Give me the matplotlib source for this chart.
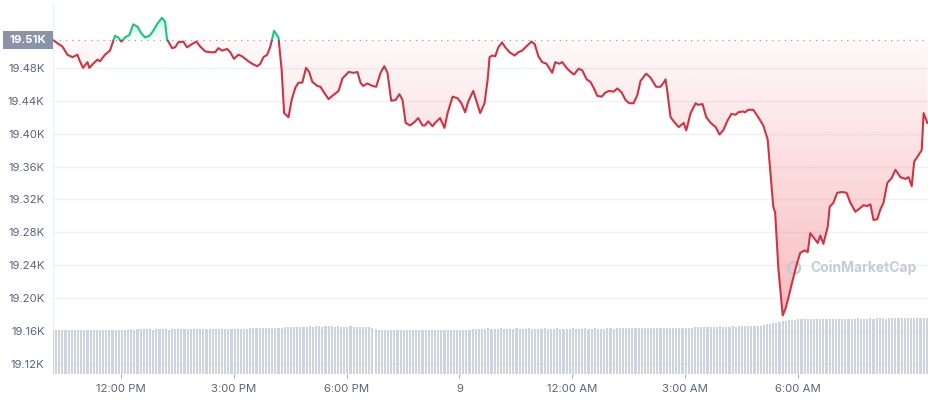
import numpy as np
import matplotlib
matplotlib.use("Agg")
import matplotlib.pyplot as plt
from matplotlib.path import Path
from matplotlib.patches import Rectangle
from matplotlib.colors import to_rgb
from matplotlib.transforms import blended_transform_factory

plt.rcParams['font.family'] = ['Inter', 'DejaVu Sans']

# ---- data (minutes since midnight of day 8, price in USD) ----
minutes = [611, 618, 626, 634, 642, 650, 654, 659, 666, 669, 675, 682, 686, 694, 702, 710, 715, 720,
           726, 733, 739, 746, 752, 758, 765, 771, 777, 785, 790, 793, 801, 806, 811, 819, 825, 833,
           840, 846, 854, 862, 870, 875, 881, 889, 894, 900, 907, 913, 918, 923, 929, 937, 942, 947,
           953, 958, 964, 971, 976, 980, 987, 992, 998, 1003, 1009, 1015, 1020, 1025, 1033, 1038,
           1043, 1051, 1057, 1067, 1073, 1083, 1091, 1097, 1102, 1106, 1113, 1121, 1127, 1134, 1140,
           1145, 1151, 1158, 1164, 1169, 1174, 1181, 1188, 1194, 1201, 1205, 1210, 1217, 1221, 1229,
           1236, 1241, 1249, 1257, 1263, 1269, 1274, 1282, 1289, 1293, 1300, 1305, 1308, 1312, 1317,
           1322, 1328, 1333, 1340, 1348, 1354, 1360, 1368, 1375, 1380, 1386, 1392, 1399, 1408, 1413,
           1419, 1424, 1432, 1439, 1443, 1450, 1456, 1463, 1469, 1474, 1480, 1487, 1493, 1499, 1506,
           1512, 1519, 1525, 1531, 1538, 1544, 1549, 1558, 1565, 1574, 1581, 1586, 1589, 1592, 1597,
           1603, 1610, 1618, 1622, 1629, 1637, 1641, 1648, 1654, 1661, 1669, 1675, 1681, 1688, 1694,
           1701, 1705, 1713, 1716, 1721, 1729, 1737, 1745, 1752, 1756, 1761, 1764, 1769, 1776, 1780,
           1785, 1792, 1798, 1804, 1811, 1816, 1820, 1825, 1832, 1836, 1841, 1848, 1851, 1857, 1863,
           1871, 1878, 1884, 1892, 1899, 1905, 1911, 1916, 1921, 1927, 1932, 1937, 1943, 1950, 1956,
           1964, 1972, 1977, 1982, 1986, 1993, 1998, 2001, 2007]
prices = [19514, 19510, 19506, 19496, 19493, 19496, 19488, 19480, 19487, 19480, 19485, 19490, 19488,
          19496, 19501, 19519, 19517, 19512, 19517, 19520, 19533, 19530, 19522, 19517, 19519, 19525,
          19533, 19541, 19536, 19515, 19504, 19505, 19511, 19512, 19505, 19509, 19512, 19506, 19500,
          19499, 19499, 19504, 19501, 19503, 19499, 19491, 19496, 19494, 19491, 19488, 19485, 19482,
          19485, 19493, 19496, 19506, 19525, 19517, 19478, 19425, 19420, 19441, 19456, 19462, 19462,
          19480, 19475, 19463, 19458, 19457, 19451, 19442, 19446, 19452, 19467, 19475, 19474, 19475,
          19462, 19458, 19461, 19458, 19457, 19474, 19482, 19474, 19440, 19441, 19448, 19441, 19413,
          19410, 19414, 19419, 19410, 19410, 19415, 19409, 19413, 19419, 19407, 19425, 19445, 19443,
          19437, 19426, 19439, 19452, 19435, 19425, 19437, 19466, 19493, 19495, 19494, 19505, 19511,
          19505, 19499, 19495, 19499, 19501, 19507, 19512, 19509, 19494, 19487, 19485, 19474, 19487,
          19485, 19487, 19479, 19474, 19472, 19479, 19477, 19466, 19463, 19456, 19446, 19445, 19450,
          19452, 19451, 19455, 19450, 19441, 19437, 19437, 19447, 19464, 19473, 19468, 19457, 19457,
          19462, 19466, 19450, 19420, 19414, 19408, 19413, 19404, 19425, 19437, 19435, 19436, 19420,
          19413, 19408, 19399, 19404, 19416, 19424, 19423, 19426, 19427, 19426, 19429, 19429, 19420,
          19410, 19393, 19356, 19311, 19304, 19237, 19179, 19186, 19200, 19222, 19240, 19255, 19258,
          19256, 19279, 19274, 19267, 19276, 19266, 19287, 19311, 19316, 19328, 19329, 19328, 19316,
          19305, 19309, 19313, 19312, 19314, 19295, 19296, 19308, 19316, 19340, 19346, 19356, 19347,
          19345, 19347, 19336, 19366, 19374, 19380, 19425, 19413]

# 24h volume bars (billions USD), one every 5 minutes from the first timestamp
vol_start = 611
vol_step = 5
volumes = [
    30.1, 30.0, 30.1, 30.0, 29.9, 30.0, 30.1, 30.0, 30.0, 29.9, 30.0, 30.1, 30.0, 30.0, 30.1, 30.0, 29.9, 30.0, 30.1, 30.0,
    30.0, 30.1, 30.0, 30.1, 30.2, 30.3, 30.2, 30.4, 30.3, 30.3, 30.4, 30.3, 30.2, 30.4, 30.3, 30.4, 30.3, 30.2, 30.3, 30.4,
    30.5, 30.6, 30.5, 30.6, 30.7, 30.6, 30.5, 30.6, 30.6, 30.7, 30.6, 30.5, 30.6, 30.7, 30.6, 30.6, 30.5, 30.6, 30.7, 30.6,
    30.7, 30.8, 30.9, 31.0, 31.3, 31.4, 31.3, 31.4, 31.5, 31.4, 31.3, 31.5, 31.4, 31.6, 31.7, 31.8, 31.7, 31.9, 32.0, 32.1,
    32.2, 32.3, 32.4, 32.3, 32.5, 32.4, 32.3, 32.4, 32.5, 32.4, 32.3, 32.4, 32.3, 32.2, 32.3, 32.4, 32.3, 32.2, 32.3, 32.2,
    32.1, 32.0, 31.6, 30.4, 30.1, 29.9, 30.0, 29.8, 29.9, 30.0, 29.9, 29.8, 29.9, 30.0, 29.9, 29.8, 29.9, 29.9, 30.0, 29.9,
    29.8, 29.9, 30.0, 29.9, 29.8, 29.9, 30.0, 29.9, 30.0, 29.9, 30.0, 30.1, 30.0, 30.1, 30.5, 30.7, 30.8, 30.8, 30.9, 31.0,
    30.9, 30.8, 30.9, 31.0, 30.9, 30.8, 30.9, 30.9, 31.0, 30.9, 30.8, 30.9, 31.0, 30.9, 30.9, 30.8, 30.9, 31.0, 30.9, 30.8,
    30.9, 31.0, 30.9, 30.9, 30.8, 30.9, 31.0, 30.9, 30.8, 30.9, 31.0, 30.9, 30.9, 31.0, 30.9, 30.8, 30.9, 31.0, 31.0, 30.9,
    31.0, 31.1, 31.2, 31.3, 31.2, 31.3, 31.4, 31.3, 31.2, 31.3, 31.4, 31.3, 31.2, 31.3, 31.4, 31.3, 31.3, 31.4, 31.3, 31.2,
    31.3, 31.4, 31.5, 31.4, 31.6, 31.7, 31.8, 31.9, 32.1, 32.2, 32.3, 32.2, 32.3, 32.4, 32.3, 32.2, 32.3, 32.4, 32.3, 32.4,
    32.5, 32.4, 32.5, 32.6, 32.5, 32.7, 32.9, 33.3, 33.8, 34.2, 34.6, 35.0, 35.4, 35.8, 36.2, 36.5, 36.8, 37.0, 37.2, 37.3,
    37.4, 37.5, 37.4, 37.5, 37.6, 37.5, 37.4, 37.6, 37.5, 37.6, 37.7, 37.6, 37.5, 37.6, 37.7, 37.6, 37.7, 37.8, 37.7, 37.6,
    37.7, 37.8, 37.7, 37.8, 37.9, 37.8, 37.7, 37.8, 37.9, 38.0, 37.9, 37.8, 37.9, 38.0, 38.1, 38.0, 37.9, 38.0, 38.1, 38.2,
]

ytick_values = [19120, 19160, 19200, 19240, 19280, 19320, 19360, 19400, 19440, 19480]
xtick_minutes = [720, 900, 1080, 1260, 1440, 1620, 1800]
xtick_labels = ['12:00 PM', '3:00 PM', '6:00 PM', '9', '12:00 AM', '3:00 AM', '6:00 AM']
baseline = prices[0]
baseline_label = '19.51K'

RED = '#cf3442'
RED_FILL = '#ea3943'
GREEN = '#16c784'
GRID = '#eff2f5'
TXT = '#58667e'

x = np.array(minutes, dtype=float)
p = np.array(prices, dtype=float)
XMIN, XMAX = 611, 2008
YMIN, YMAX = 19107.7, 19558.9

fig = plt.figure(figsize=(9.29, 4.0), dpi=100)
rect = [53 / 929, 26 / 400, 875 / 929, 371 / 400]
ax = fig.add_axes(rect)
axv = fig.add_axes(rect)
axv.patch.set_visible(False)

# grid
for v in ytick_values:
    ax.axhline(v, color=GRID, lw=1, zorder=0)

# gradient fills
def gradient_fill(color, y0, y1, a0, a1, verts):
    n = 256
    img = np.zeros((n, 1, 4))
    img[..., :3] = to_rgb(color)
    img[:, 0, 3] = np.linspace(a0, a1, n)
    im = ax.imshow(img, extent=[XMIN, XMAX, y0, y1], origin='lower', aspect='auto',
                   interpolation='bilinear', zorder=1)
    path = Path(verts, closed=True)
    im.set_clip_path(path, ax.transData)

low = np.minimum(p, baseline)
verts_r = [(x[0], baseline)] + list(zip(x, low)) + [(x[-1], baseline), (x[0], baseline)]
gradient_fill(RED_FILL, p.min(), baseline, 0.34, 0.03, verts_r)
high = np.maximum(p, baseline)
verts_g = [(x[0], baseline)] + list(zip(x, high)) + [(x[-1], baseline), (x[0], baseline)]
gradient_fill(GREEN, baseline, p.max(), 0.02, 0.22, verts_g)

# baseline dotted
ax.axhline(baseline, color='#9aa3b5', lw=0.9, ls=(0, (1, 4)), zorder=2)

# price line, coloured by side of baseline
lr, = ax.plot(x, p, color=RED, lw=1.5, zorder=3, solid_joinstyle='round')
lr.set_clip_path(Rectangle((XMIN, YMIN - 100), XMAX - XMIN, baseline - YMIN + 100,
                           transform=ax.transData))
lg, = ax.plot(x, p, color=GREEN, lw=1.5, zorder=3, solid_joinstyle='round')
lg.set_clip_path(Rectangle((XMIN, baseline), XMAX - XMIN, YMAX - baseline + 100,
                           transform=ax.transData))

ax.set_xlim(XMIN, XMAX)
ax.set_ylim(YMIN, YMAX)

# axes styling
for s in ['top', 'right', 'bottom']:
    ax.spines[s].set_visible(False)
ax.spines['left'].set_color(GRID)
ax.spines['left'].set_linewidth(1)
ax.set_yticks(ytick_values)
ax.set_yticklabels([f'{v / 1000:.2f}K' for v in ytick_values])
ax.tick_params(axis='y', length=0, pad=6, labelsize=8.2, labelcolor=TXT)
ax.set_xticks(xtick_minutes)
ax.set_xticklabels(xtick_labels)
ax.tick_params(axis='x', length=3, width=0.8, color='#a6b0c3', pad=4, labelsize=8.2, labelcolor=TXT)

# baseline label box
tr = blended_transform_factory(ax.transAxes, ax.transData)
px = (YMAX - YMIN) / 371.0
ax.add_patch(Rectangle((-50 / 875, baseline - 9 * px), 50 / 875, 18 * px, transform=tr,
                       facecolor='#8a94a6', edgecolor='none', clip_on=False, zorder=5))
ax.text(-25 / 875, baseline, baseline_label, transform=tr, ha='center', va='center',
        color='white', fontsize=8.2, fontweight='bold', zorder=6, clip_on=False)

# watermark
ax.text(0.866, 0.286, 'CoinMarketCap', transform=ax.transAxes, fontsize=10, fontweight='bold',
        color='#c6ccd6', ha='left', va='center', zorder=2)
ax.scatter([0.847], [0.286], s=70, marker='o', facecolors='none', edgecolors='#c6ccd6',
           linewidths=1.8, transform=ax.transAxes, zorder=2)

# volume bars
bar_t = vol_start + vol_step * np.arange(len(volumes))
axv.bar(bar_t, volumes, width=vol_step * 0.68, color='#cdd4de', edgecolor='none', align='center')
axv.set_xlim(XMIN, XMAX)
axv.set_ylim(0, 252.3)
axv.axis('off')

fig.savefig('out.png', dpi=100)
